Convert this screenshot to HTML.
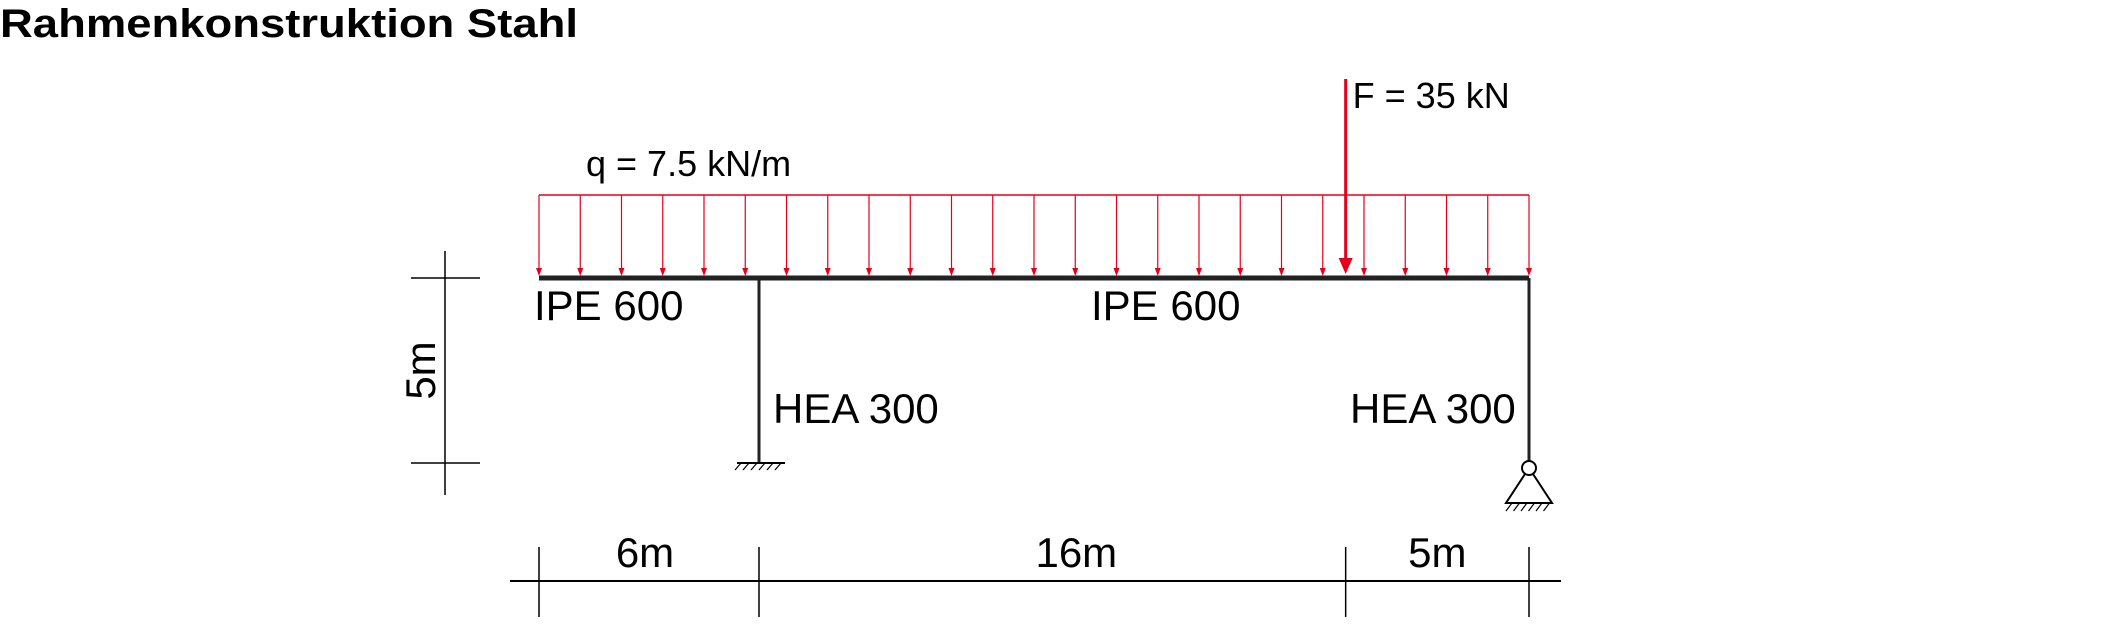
<!DOCTYPE html>
<html><head><meta charset="utf-8"><style>
html,body{margin:0;padding:0;background:#fff;width:2127px;height:640px;overflow:hidden}
svg{display:block}
text{font-family:"Liberation Sans",Arial,sans-serif;fill:#000}
</style></head><body>
<svg id="c" width="2127" height="640" viewBox="0 0 2127 640">
<text x="0" y="37" font-size="40" font-weight="bold" textLength="578" lengthAdjust="spacingAndGlyphs">Rahmenkonstruktion Stahl</text>
</svg>
<script>
const spans = [6, 16, 5];
const spanLabels = ["6m", "16m", "5m"];
const colHeight = 5;
const heightLabel = "5m";
const loadLabel = "q = 7.5 kN/m";
const forcePos = [22];
const forceLabels = ["F = 35 kN"];
const arrowCount = [25];

const svg = document.getElementById('c');
const NS = 'http://www.w3.org/2000/svg';
const x0 = 539, beamY = 278, sx = 990 / 27, sy = 185 / 5;
const X = m => x0 + m * sx;
const Y = m => beamY + m * sy;
function el(tag, attrs, name) {
  const e = document.createElementNS(NS, tag);
  for (const k in attrs) e.setAttribute(k, attrs[k]);
  
  
  svg.appendChild(e);
  return e;
}
function line(x1, y1, x2, y2, stroke, w, name) {
  return el('line', {x1, y1, x2, y2, stroke, 'stroke-width': w}, name);
}
function txt(x, y, s, size, name, anchor) {
  const t = el('text', {x, y, 'font-size': size, 'text-anchor': anchor || 'start'}, name);
  t.textContent = s;
  return t;
}
const total = spans.reduce((a, b) => a + b, 0);
const cum = [0]; spans.forEach(s => cum.push(cum[cum.length - 1] + s));

const red = '#e3001b';
line(X(0), 195, X(total), 195, red, 1.5, 'load-top-line');
const n = arrowCount[0];
for (let i = 0; i < n; i++) {
  const xm = total * i / (n - 1), x = X(xm);
  line(x, 195, x, 272, red, 1.2, 'load-arrow');
  el('path', {d: `M${x-3} ${268}L${x} ${276}L${x+3} ${268}Z`, fill: red}, 'load-arrowhead');
}
txt(586, 176, loadLabel, 36, 'load-label');

const fx = X(forcePos[0]);
line(fx, 79, fx, 262, red, 3, 'force-arrow');
el('path', {d: `M${fx-7} ${258}L${fx} ${274}L${fx+7} ${258}Z`, fill: red}, 'force-arrowhead');
txt(fx + 7, 108, forceLabels[0], 36, 'force-label');

line(X(0), beamY, X(total), beamY, '#222', 5, 'beam-ipe600');
const c1 = X(spans[0]), c2 = X(total);
line(c1, beamY, c1, Y(colHeight), '#222', 3, 'left-column');
line(c2, beamY, c2, Y(colHeight) - 1, '#222', 3, 'right-column');
txt(534, 320, 'IPE 600', 42, 'beam-label-left');
txt(1091, 320, 'IPE 600', 42, 'beam-label-right');
txt(773, 423, 'HEA 300', 42, 'column-label-left');
txt(1350, 423, 'HEA 300', 42, 'column-label-right');

const fy = Y(colHeight);
line(c1 - 22, fy, c1 + 26, fy, '#000', 2, 'fixed-support');
for (let i = 0; i < 6; i++) {
  const hx = c1 - 18 + i * 8;
  line(hx, fy, hx - 6, fy + 7, '#000', 1.2, 'fixed-hatch');
}
el('circle', {cx: c2, cy: 468, r: 7, fill: '#fff', stroke: '#000', 'stroke-width': 2}, 'hinge');
el('path', {d: `M${c2-4} 474L${c2-23} 503L${c2+23} 503L${c2+4} 474`, fill: 'none', stroke: '#000', 'stroke-width': 2}, 'pin-triangle');
for (let i = 0; i < 6; i++) {
  const hx = c2 - 17 + i * 7.5;
  line(hx, 503, hx - 6, 511, '#000', 1.2, 'pin-hatch');
}

line(445, 251, 445, 495, '#000', 1.5, 'height-dim-line');
line(411, beamY, 480, beamY, '#000', 1.5, 'height-tick-top');
line(411, Y(colHeight), 480, Y(colHeight), '#000', 1.5, 'height-tick-bottom');
const ht = txt(0, 0, heightLabel, 42, 'height-label', 'middle');
ht.setAttribute('transform', `translate(435 ${(beamY + Y(colHeight)) / 2}) rotate(-90)`);

line(510, 581, 1561, 581, '#000', 2, 'span-dim-line');
cum.forEach(m => line(X(m), 547, X(m), 617, '#000', 1.5, 'span-tick'));
spans.forEach((s, i) => {
  let cx = (X(cum[i]) + X(cum[i + 1])) / 2;
  if (i === 1) cx += 24;
  if (i === 0) cx -= 4;
  txt(cx, 567, spanLabels[i], 42, 'span-label', 'middle');
});
</script>
</body></html>
